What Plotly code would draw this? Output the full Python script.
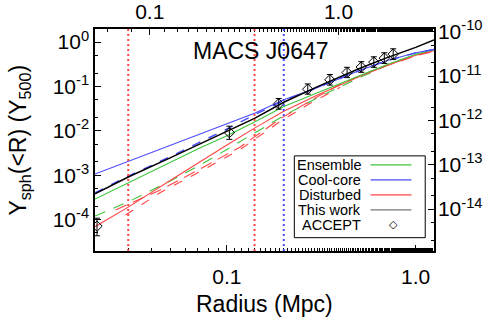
import plotly.graph_objects as go

# ---------------- data ----------------
radii = [0.02, 0.03, 0.05, 0.07, 0.1, 0.14, 0.2, 0.3, 0.5, 0.7, 1.0, 1.25]

this_work = [3.8e-4, 9.1e-4, 2.45e-3, 4.8e-3, 9.5e-3, 1.9e-2, 4.4e-2, 9.8e-2, 0.25, 0.44, 0.76, 1.12]
cool_core = [1.06e-3, 2.04e-3, 4.7e-3, 8.1e-3, 1.43e-2, 2.5e-2, 5.0e-2, 9.3e-2, 0.225, 0.378, 0.575, 0.687]
cool_core_dash = [4.0e-4, 9.5e-4, 2.6e-3, 5.2e-3, 1.1e-2, 2.3e-2, 4.8e-2, 9.3e-2, 0.224, 0.376, 0.571, 0.684]
ensemble = [2.9e-4, 6.8e-4, 2.0e-3, 3.9e-3, 7.7e-3, 1.58e-2, 3.55e-2, 7.1e-2, 0.174, 0.308, 0.531, 0.67]
ensemble_dash = [1.2e-4, 2.5e-4, 7.4e-4, 1.58e-3, 3.8e-3, 8.7e-3, 2.19e-2, 5.5e-2, 0.156, 0.292, 0.516, 0.653]
disturbed = [6.9e-5, 1.9e-4, 7.6e-4, 1.9e-3, 4.8e-3, 1.15e-2, 2.75e-2, 6.3e-2, 0.166, 0.292, 0.504, 0.637]

dist_dash_r = [0.0257, 0.0444, 0.0722, 0.1176, 0.1914, 0.276, 0.3835, 0.507, 0.697, 1.004, 1.25]
dist_dash = [1.64e-4, 4.63e-4, 1.38e-3, 4.33e-3, 1.86e-2, 4.73e-2, 0.1032, 0.1735, 0.2917, 0.4906, 0.62]
dist_dash2_r = [0.029, 0.0444, 0.0722, 0.1176, 0.1914, 0.276, 0.398]
dist_dash2 = [1.26e-4, 4.07e-4, 1.21e-3, 3.80e-3, 1.63e-2, 4.16e-2, 0.0954]

accept_r = [0.0205, 0.103, 0.188, 0.268, 0.351, 0.433, 0.515, 0.600, 0.682, 0.760]
accept_y = [7.1e-5, 9.1e-3, 0.0405, 0.0869, 0.141, 0.206, 0.274, 0.354, 0.435, 0.536]
accept_err_hi = [3.6e-5, 3.6e-3, 0.013, 0.027, 0.045, 0.064, 0.088, 0.112, 0.140, 0.170]
accept_err_lo = [2.8e-5, 2.7e-3, 0.0098, 0.020, 0.034, 0.048, 0.066, 0.085, 0.105, 0.128]

vlines_red = [0.03, 0.14]
vlines_blue = [0.2]

x_ticks = [0.1, 1.0]
x_ticktext = ["0.1", "1.0"]
top_ticks = [0.1, 1.0]
top_ticktext = ["0.1", "1.0"]
arcmin_per_mpc = 2.565
y_ticks = [1, 0.1, 0.01, 1e-3, 1e-4]
y_ticktext = ["10<sup>0</sup>", "10<sup>-1</sup>", "10<sup>-2</sup>", "10<sup>-3</sup>", "10<sup>-4</sup>"]
y2_ticks = [1e-10, 1e-11, 1e-12, 1e-13, 1e-14]
y2_ticktext = ["10<sup>-10</sup>", "10<sup>-11</sup>", "10<sup>-12</sup>", "10<sup>-13</sup>", "10<sup>-14</sup>"]
y2_offset_dex = -10.235

legend_labels = ["Ensemble", "Cool-core", "Disturbed", "This work", "ACCEPT"]

# ---------------- style ----------------
GREEN = "#3cc43c"
BLUE = "#4a4aff"
RED = "#ff4444"
FONT = "Liberation Sans, Arial, sans-serif"

xr = [-1.699, 0.097]
yr = [-4.71, 0.295]

fig = go.Figure()

def line(x, y, color, dash="solid", width=1.1):
    fig.add_trace(go.Scatter(x=x, y=y, mode="lines", line=dict(color=color, width=width, dash=dash),
                             showlegend=False, hoverinfo="skip"))

line(radii, ensemble_dash, GREEN, dash="11px,9px")
line(dist_dash_r, dist_dash, RED, dash="12px,7px")
line(dist_dash2_r, dist_dash2, RED, dash="9px,10px")
line(radii, disturbed, RED)
line(radii, ensemble, GREEN)
line(radii, cool_core, BLUE)
line(radii, cool_core_dash, BLUE, dash="9px,9px", width=1.4)
line(radii, this_work, "black", width=1.5)

fig.add_trace(go.Scatter(
    x=accept_r, y=accept_y, mode="markers",
    marker=dict(symbol="diamond-open", size=8, color="black", line=dict(width=1)),
    error_y=dict(type="data", symmetric=False, array=accept_err_hi, arrayminus=accept_err_lo,
                 color="black", thickness=1, width=3),
    showlegend=False, hoverinfo="skip"))

# invisible trace to activate the secondary axes
fig.add_trace(go.Scatter(x=[radii[0] * arcmin_per_mpc], y=[1e-12], xaxis="x2", yaxis="y2",
                         mode="markers", marker=dict(opacity=0), showlegend=False, hoverinfo="skip"))

shapes = []
for v in vlines_red:
    shapes.append(dict(type="line", xref="x", yref="paper", x0=v, x1=v, y0=0, y1=1,
                       line=dict(color=RED, width=2, dash="2px,3px")))
for v in vlines_blue:
    shapes.append(dict(type="line", xref="x", yref="paper", x0=v, x1=v, y0=0, y1=1,
                       line=dict(color=BLUE, width=2, dash="2px,3px")))

# target plot-area box in screen pixels
L, R_, T, B = 94.5, 434.3, 29.3, 251.0
W, H = 497, 319

def px(x):
    return (x - L) / (R_ - L)
def py(y):
    return (B - y) / (B - T)

shapes.append(dict(type="rect", xref="paper", yref="paper", x0=px(294.3), x1=px(425.5),
                   y0=py(237.7), y1=py(156), line=dict(color="black", width=1), fillcolor="white"))
leg_colors = [GREEN, BLUE, RED, "#777777"]
annotations = []
for i, lab in enumerate(legend_labels):
    yc = 165 + 15 * i
    annotations.append(dict(x=px(363.5), y=py(yc), xref="paper", yref="paper", text=lab,
                            showarrow=False, xanchor="right", yanchor="middle",
                            font=dict(family=FONT, size=14.5, color="black")))
    if i < 4:
        shapes.append(dict(type="line", xref="paper", yref="paper", x0=px(370.7), x1=px(411.7),
                           y0=py(yc), y1=py(yc), line=dict(color=leg_colors[i], width=1.2)))
    else:
        annotations.append(dict(x=px(394), y=py(yc), xref="paper", yref="paper", text="◇",
                                showarrow=False, xanchor="center", yanchor="middle",
                                font=dict(family="DejaVu Sans", size=11, color="black")))

annotations.append(dict(x=px(261), y=py(51.5), xref="paper", yref="paper", text="MACS J0647",
                        showarrow=False, xanchor="center", yanchor="middle",
                        font=dict(family=FONT, size=23, color="black")))
annotations.append(dict(x=px(19), y=py(140), xref="paper", yref="paper",
                        text="Y<sub>sph</sub>(&lt;R) (Y<sub>500</sub>)", textangle=-90,
                        showarrow=False, xanchor="center", yanchor="middle",
                        font=dict(family=FONT, size=23, color="black")))
annotations.append(dict(x=px(264.5), y=py(304), xref="paper", yref="paper",
                        text="Radius (Mpc)",
                        showarrow=False, xanchor="center", yanchor="middle",
                        font=dict(family=FONT, size=23, color="black")))

axis_common = dict(showline=True, linecolor="black", linewidth=1.5, ticks="inside", ticklen=6,
                   tickcolor="black", tickwidth=1, showgrid=False, zeroline=False, automargin=False,
                   tickfont=dict(family=FONT, size=21, color="black"),
                   minor=dict(ticks="inside", ticklen=3, tickcolor="black", tickwidth=1, showgrid=False))

fig.update_layout(
    width=W, height=H,
    margin=dict(l=L, r=W - R_, t=T, b=H - B, pad=0, autoexpand=False),
    paper_bgcolor="white", plot_bgcolor="white",
    showlegend=False,
    xaxis=dict(type="log", range=xr, tickvals=x_ticks, ticktext=x_ticktext, side="bottom",
               ticklabelstandoff=6, **axis_common),
    xaxis2=dict(type="log", overlaying="x", side="top",
                range=[xr[0] + 0.40909, xr[1] + 0.40909],
                tickvals=top_ticks, ticktext=top_ticktext, **axis_common),
    yaxis=dict(type="log", range=yr, tickvals=y_ticks, ticktext=y_ticktext, side="left",
               **axis_common),
    yaxis2=dict(type="log", overlaying="y", side="right",
                range=[yr[0] + y2_offset_dex, yr[1] + y2_offset_dex],
                tickvals=y2_ticks, ticktext=y2_ticktext, ticklabelstandoff=-2, **axis_common),
    shapes=shapes, annotations=annotations,
)

fig.write_html("out.html", config={"displayModeBar": False},
               post_script="document.body.style.margin='0px';document.body.style.padding='0px';")
